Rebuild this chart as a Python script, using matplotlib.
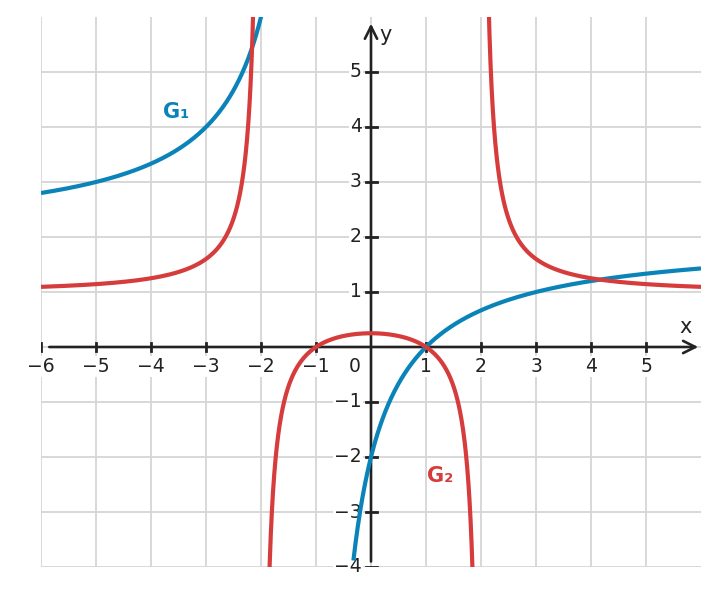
import numpy as np
import matplotlib.pyplot as plt

# G1(x) = g1_offset + g1_scale / (x - g1_pole)
g1_offset = 2.0
g1_scale = -4.0
g1_pole = -1.0
g1_right_start = -0.32   # drawn right branch starts here

# G2(x) = (x^2 - g2_root^2) / (x^2 - g2_pole^2)
g2_root = 1.0
g2_pole = 2.0

x_ticks = [-6, -5, -4, -3, -2, -1, 1, 2, 3, 4, 5]
y_ticks = [-4, -3, -2, -1, 1, 2, 3, 4, 5]

blue = '#0a84b8'
red = '#d63c3c'
ink = '#222222'


def g1(x):
    return g1_offset + g1_scale / (x - g1_pole)


def g2(x):
    return (x**2 - g2_root**2) / (x**2 - g2_pole**2)


fig = plt.figure(figsize=(7.19, 5.95), dpi=100)
ax = fig.add_axes([41 / 719, 28 / 595, 660 / 719, 550 / 595])
ax.set_xlim(-6, 6)
ax.set_ylim(-4, 6)
ax.axis('off')

# grid
for gx in range(-6, 6):
    ax.plot([gx, gx], [-4, 6], color='#d6d6d6', lw=1.3, zorder=1)
for gy in range(-4, 6):
    ax.plot([-6, 6], [gy, gy], color='#d6d6d6', lw=1.3, zorder=1)

# axes with arrows
ax.annotate('', xy=(5.95, 0), xytext=(-5.85, 0),
            arrowprops=dict(arrowstyle='->', color=ink, lw=1.9,
                            mutation_scale=22, shrinkA=0, shrinkB=0),
            zorder=3, annotation_clip=False)
ax.annotate('', xy=(0, 5.88), xytext=(0, -3.9),
            arrowprops=dict(arrowstyle='->', color=ink, lw=1.9,
                            mutation_scale=22, shrinkA=0, shrinkB=0),
            zorder=3, annotation_clip=False)

# ticks
for tx in x_ticks:
    ax.plot([tx, tx], [-0.08, 0.08], color=ink, lw=2, zorder=3)
for ty in y_ticks:
    ax.plot([-0.1, 0.1], [ty, ty], color=ink, lw=2, zorder=3)

# curves
eps = 1e-3
g1_left = np.linspace(-6, g1_pole - eps, 4000)
g1_right = np.linspace(g1_right_start, 6, 4000)
for xs in (g1_left, g1_right):
    ax.plot(xs, g1(xs), color=blue, lw=3, zorder=4, solid_capstyle='butt')

g2_parts = [np.linspace(-6, -g2_pole - eps, 4000),
            np.linspace(-g2_pole + eps, g2_pole - eps, 8000),
            np.linspace(g2_pole + eps, 6, 4000)]
for xs in g2_parts:
    ax.plot(xs, g2(xs), color=red, lw=3, zorder=4, solid_capstyle='butt')

# tick labels with white background (under the curves, above the grid)
box = dict(boxstyle='square,pad=0.05', fc='white', ec='none')
for tx in x_ticks:
    ax.text(tx, -0.36, f'\u2212{abs(tx)}' if tx < 0 else str(tx),
            ha='center', va='center', fontsize=13.5, color=ink,
            bbox=box, zorder=2, clip_on=False)
ax.text(-0.29, -0.36, '0', ha='center', va='center', fontsize=13.5,
        color=ink, bbox=box, zorder=2)
for ty in y_ticks:
    ax.text(-0.17, ty, f'\u2212{abs(ty)}' if ty < 0 else str(ty),
            ha='right', va='center', fontsize=13.5, color=ink,
            bbox=box, zorder=2, clip_on=False)

ax.text(5.72, 0.36, 'x', ha='center', va='center', fontsize=15, color=ink)
ax.text(0.26, 5.67, 'y', ha='center', va='center', fontsize=15, color=ink)

ax.text(-3.55, 4.28, 'G\u2081', ha='center', va='center', fontsize=15,
        fontweight='bold', color=blue)
ax.text(1.25, -2.35, 'G\u2082', ha='center', va='center', fontsize=15,
        fontweight='bold', color=red)

fig.savefig('out.png', dpi=100)
